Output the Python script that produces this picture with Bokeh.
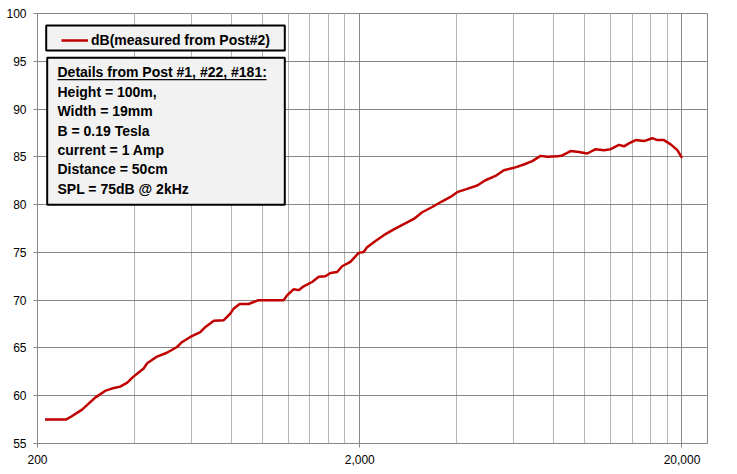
from bokeh.plotting import figure
from bokeh.models import (FixedTicker, NumeralTickFormatter, Legend, LegendItem,
                          BoxAnnotation, Label)
from bokeh.embed import file_html
from bokeh.resources import INLINE

# ---------------- data ----------------
freq_hz = [211, 245, 254, 275, 302, 324, 340, 361, 379, 397, 427, 438, 470, 504,
           542, 561, 596, 640, 664, 705, 757, 793, 812, 848, 904, 971, 1161, 1190,
           1248, 1292, 1340, 1423, 1492, 1564, 1623, 1702, 1763, 1871, 1985, 2057,
           2108, 2238, 2375, 2551, 2740, 2943, 3125, 3357, 3605, 3826, 4012, 4310,
           4630, 4911, 5276, 5600, 6015, 6461, 6862, 7280, 7640, 8205, 8506, 9025,
           9575, 10166, 10790, 11455, 12012, 12748, 13213, 13690, 14360, 15240,
           16180, 16770, 17580, 18450, 19350, 20000]
spl_db = [57.5, 57.5, 57.8, 58.55, 59.8, 60.5, 60.75, 60.95, 61.35, 62.0, 62.85,
          63.4, 64.1, 64.5, 65.1, 65.6, 66.15, 66.65, 67.2, 67.85, 67.9, 68.6, 69.1,
          69.6, 69.6, 70.0, 70.0, 70.5, 71.15, 71.05, 71.45, 71.9, 72.45, 72.5,
          72.85, 72.95, 73.55, 74.0, 74.95, 75.05, 75.55, 76.2, 76.8, 77.4, 77.95,
          78.5, 79.2, 79.75, 80.35, 80.8, 81.3, 81.65, 82.0, 82.55, 83.0, 83.6,
          83.85, 84.2, 84.55, 85.1, 85.0, 85.05, 85.15, 85.6, 85.5, 85.35, 85.8,
          85.7, 85.8, 86.25, 86.1, 86.4, 86.75, 86.65, 86.95, 86.75, 86.75, 86.3,
          85.7, 84.9]
series_name = "dB(measured from Post#2)"
x_major_ticks = [200, 2000, 20000]
x_minor_ticks = [400, 600, 800, 1000, 1200, 1400, 1600, 1800,
                 4000, 6000, 8000, 10000, 12000, 14000, 16000, 18000]
y_ticks = [55, 60, 65, 70, 75, 80, 85, 90, 95, 100]
x_limits = (200, 24000)
y_limits = (55, 100)
note_lines = ["Details from Post #1, #22, #181:",
              "Height = 100m,",
              "Width = 19mm",
              "B = 0.19 Tesla",
              "current = 1 Amp",
              "Distance = 50cm",
              "SPL = 75dB @ 2kHz"]

# ---------------- figure ----------------
FONT = "Liberation Sans"
GRID_MAJOR = "#878787"
GRID_MINOR = "#b4b4b4"
RED = "#c00000"

W, H = 737, 474
ML, MR, MT, MB = 37, 30, 13, 31
FH = H - MT - MB  # frame height

p = figure(width=W, height=H, x_axis_type="log", x_range=x_limits, y_range=y_limits,
           output_backend="svg", toolbar_location=None,
           min_border_left=ML, min_border_right=MR, min_border_top=MT,
           min_border_bottom=MB)
p.background_fill_color = "white"
p.border_fill_color = "white"
p.outline_line_color = GRID_MAJOR
p.outline_line_width = 1

xt = FixedTicker(ticks=x_major_ticks, minor_ticks=x_minor_ticks)
yt = FixedTicker(ticks=y_ticks, minor_ticks=[])
p.xaxis.ticker = xt
p.yaxis.ticker = yt
p.xgrid.ticker = xt
p.ygrid.ticker = yt
p.xaxis.formatter = NumeralTickFormatter(format="0,0")

p.xgrid.grid_line_color = GRID_MAJOR
p.xgrid.minor_grid_line_color = GRID_MINOR
p.ygrid.grid_line_color = GRID_MAJOR
for g in (p.xgrid, p.ygrid):
    g.grid_line_width = 1

for ax in (p.xaxis, p.yaxis):
    ax.axis_line_color = GRID_MAJOR
    ax.major_tick_line_color = GRID_MAJOR
    ax.major_tick_out = 4
    ax.major_tick_in = 0
    ax.minor_tick_out = 0
    ax.minor_tick_in = 0
    ax.major_label_text_font = FONT
    ax.major_label_text_font_size = "12px"
    ax.major_label_text_color = "black"
    ax.major_label_standoff = 7

r = p.line(freq_hz, spl_db, line_color=RED, line_width=2.5)


def screen_box(left, right, top_from_top, bottom_from_top, **kw):
    return BoxAnnotation(left=left, right=right, top=FH - top_from_top,
                         bottom=FH - bottom_from_top,
                         left_units="screen", right_units="screen",
                         top_units="screen", bottom_units="screen", **kw)


# legend box (background) and notes box, screen units relative to frame
p.add_layout(screen_box(8.7, 247.3, 12, 37, fill_color="#f2f2f2", fill_alpha=1,
                        line_color="black", line_width=2, line_alpha=1))
p.add_layout(screen_box(9.7, 247.3, 44.3, 191.3, fill_color="#f2f2f2", fill_alpha=1,
                        line_color="black", line_width=2, line_alpha=1))

legend = Legend(items=[LegendItem(label=series_name, renderers=[r])],
                location=(24, FH - 36.5),
                background_fill_alpha=0, border_line_color=None,
                padding=2, spacing=0, margin=0,
                glyph_width=27, glyph_height=20, label_height=20,
                label_standoff=3,
                label_text_font=FONT, label_text_font_style="bold",
                label_text_font_size="14px", label_text_color="black")
p.add_layout(legend)

for i, t in enumerate(note_lines):
    center = 63.7 + 19.45 * i - 5  # px below frame top
    p.add_layout(Label(x=20, y=FH - center, x_units="screen", y_units="screen",
                       text=t, text_font=FONT, text_font_style="bold",
                       text_font_size="14px", text_color="black",
                       text_baseline="middle", text_align="left"))

# underline for the heading line
p.add_layout(screen_box(20, 229, 65.6, 66.8, fill_color="black", fill_alpha=1,
                        line_color=None))

# outer chart border
p.add_layout(BoxAnnotation(left=0.5, right=W - 0.5, top=0.5, bottom=H - 0.5,
                           left_units="canvas", right_units="canvas",
                           top_units="canvas", bottom_units="canvas",
                           fill_alpha=0, line_color=GRID_MAJOR, line_width=1))

open("out.html", "w").write(file_html(p, INLINE))
